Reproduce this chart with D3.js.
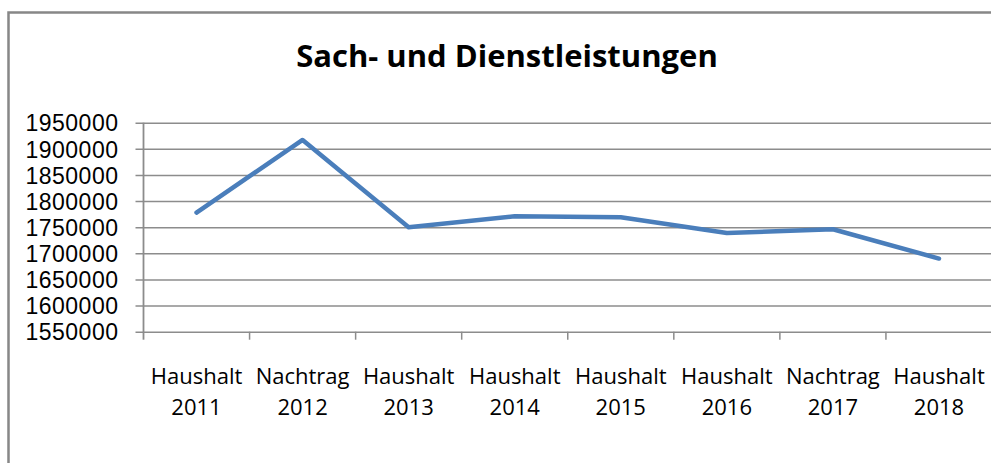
<!DOCTYPE html>
<html>
<head>
<meta charset="utf-8">
<script src="https://cdn.jsdelivr.net/npm/d3@7"></script>
<style>
  body { margin: 0; background: #fff; }
  text { font-family: "Open Sans", sans-serif; fill: #000; }
</style>
</head>
<body>
<div class="chart"></div>
<script>
var svgWidth = 991;
var svgHeight = 463;

// Data
var categories = ["Haushalt 2011", "Nachtrag 2012", "Haushalt 2013", "Haushalt 2014",
  "Haushalt 2015", "Haushalt 2016", "Nachtrag 2017", "Haushalt 2018"];
var values = [1778000, 1917000, 1750000, 1771000, 1769000, 1739000, 1746000, 1690000];
var yTicks = [1550000, 1600000, 1650000, 1700000, 1750000, 1800000, 1850000, 1900000, 1950000];

var plot = { left: 143.5, right: 992, top: 122.7, bottom: 331.7 };

var svg = d3.select(".chart").append("svg")
  .attr("width", svgWidth)
  .attr("height", svgHeight);

// outer chart border
svg.append("rect")
  .attr("x", 8.5).attr("y", 12.5)
  .attr("width", 990).attr("height", 470)
  .attr("fill", "none")
  .attr("stroke", "#878787")
  .attr("stroke-width", 2.5);

// title
svg.append("text")
  .attr("x", 507)
  .attr("y", 67)
  .attr("text-anchor", "middle")
  .style("font-weight", "bold")
  .style("font-size", "31px")
  .text("Sach- und Dienstleistungen");

var x = d3.scaleBand()
  .domain(categories)
  .range([plot.left, plot.right])
  .padding(0);

var y = d3.scaleLinear()
  .domain([1550000, 1950000])
  .range([plot.bottom, plot.top]);

// y axis with gridlines
var yAxis = svg.append("g")
  .attr("transform", `translate(${plot.left}, 0)`)
  .call(d3.axisLeft(y).tickValues(yTicks).tickSize(8).tickPadding(17).tickFormat(d3.format("d")));
yAxis.select(".domain").remove();
yAxis.selectAll(".tick line")
  .attr("x2", -8)
  .attr("x1", plot.right - plot.left)
  .attr("stroke", "#8c8c8c")
  .attr("stroke-width", 1.5);
yAxis.selectAll(".tick text")
  .style("font-family", "'Liberation Sans', sans-serif")
  .style("font-size", "23px")
  .style("letter-spacing", "0.5px")
  .attr("dy", "0.36em");

// vertical axis line
svg.append("line")
  .attr("x1", plot.left).attr("x2", plot.left)
  .attr("y1", plot.top).attr("y2", plot.bottom + 8)
  .attr("stroke", "#8c8c8c")
  .attr("stroke-width", 1.8);

// x ticks at category boundaries
svg.append("g").selectAll("line")
  .data(categories.slice(1))
  .enter()
  .append("line")
  .attr("x1", d => x(d)).attr("x2", d => x(d))
  .attr("y1", plot.bottom).attr("y2", plot.bottom + 8)
  .attr("stroke", "#8c8c8c")
  .attr("stroke-width", 1.5);

// x labels on two lines
var xLabels = svg.append("g").selectAll("text")
  .data(categories)
  .enter()
  .append("text")
  .attr("text-anchor", "middle")
  .style("font-size", "22px");
xLabels.append("tspan")
  .attr("x", d => x(d) + x.bandwidth() / 2)
  .attr("y", 384)
  .text(d => d.split(" ")[0]);
xLabels.append("tspan")
  .attr("x", d => x(d) + x.bandwidth() / 2)
  .attr("y", 415)
  .text(d => d.split(" ")[1]);

// the line
var line = d3.line()
  .x((d, i) => x(categories[i]) + x.bandwidth() / 2)
  .y(d => y(d));

svg.append("path")
  .datum(values)
  .attr("d", line)
  .attr("fill", "none")
  .attr("stroke", "#4a7ebb")
  .attr("stroke-width", 4.5)
  .attr("stroke-linecap", "round")
  .attr("stroke-linejoin", "round");
</script>
</body>
</html>
